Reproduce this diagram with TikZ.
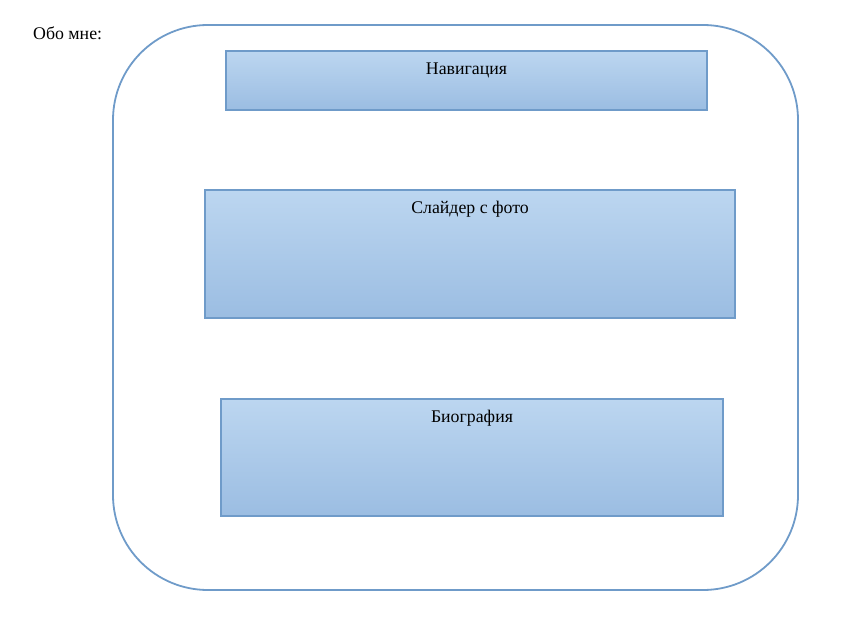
\documentclass[tikz,border=0pt]{standalone}
\usepackage{fontspec}
\setmainfont{Liberation Serif}
\definecolor{edge}{HTML}{6F9BC9}
\definecolor{topc}{HTML}{BCD6F0}
\definecolor{botc}{HTML}{9BBDE2}
\tikzset{
  panel/.style={draw=edge, line width=1.8pt, top color=topc, bottom color=botc},
  frame/.style={draw=edge, line width=1.8pt, rounded corners=95pt},
  lbl/.style={font=\fontsize{17.8pt}{21pt}\selectfont, inner sep=0pt}
}
\begin{document}
\begin{tikzpicture}[x=1pt,y=-1pt]
\useasboundingbox (0,0) rectangle (843,618);
\draw[frame] (113,25) rectangle (798,590);
\path[panel] (226,51) rectangle (707,110);
\path[panel] (205,190) rectangle (735,318);
\path[panel] (221,399) rectangle (723,516);
\node[lbl] (nav) at (466.5,70.5) {Навигация};
\node[lbl] (slider) at (470,209.5) {Слайдер с фото};
\node[lbl] (bio) at (472,418.5) {Биография};
\node[lbl, anchor=west] (about) at (33,33.5) {Обо мне:};
\end{tikzpicture}
\end{document}
